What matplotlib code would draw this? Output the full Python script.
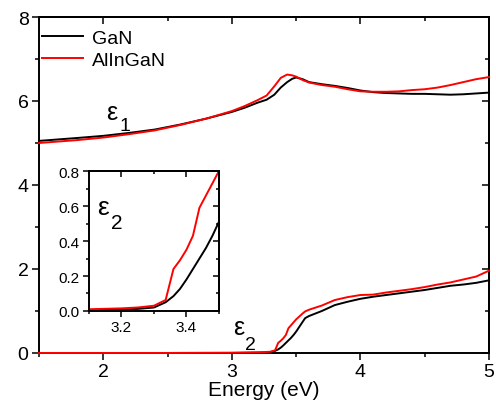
import matplotlib
matplotlib.use('Agg')
import matplotlib.pyplot as plt
from matplotlib.ticker import MultipleLocator, FormatStrFormatter

plt.rcParams['font.family'] = ['Liberation Sans', 'DejaVu Sans']

# ---- data ----
e1_energy = [1.5, 1.8, 2.0, 2.2, 2.4, 2.6, 2.8, 3.0, 3.1, 3.2, 3.27, 3.33, 3.38,
             3.43, 3.47, 3.5, 3.55, 3.6, 3.7, 3.8, 3.9, 4.0, 4.1, 4.2, 4.3, 4.4,
             4.5, 4.6, 4.7, 4.8, 4.9, 5.0]
e1_gan = [5.05, 5.12, 5.17, 5.24, 5.32, 5.44, 5.58, 5.74, 5.84, 5.96, 6.03, 6.15,
          6.32, 6.45, 6.53, 6.56, 6.52, 6.45, 6.40, 6.36, 6.31, 6.25, 6.21, 6.19,
          6.18, 6.17, 6.17, 6.16, 6.15, 6.16, 6.18, 6.20]
e1_alingan = [5.00, 5.07, 5.13, 5.21, 5.30, 5.43, 5.58, 5.76, 5.88, 6.02, 6.13,
              6.35, 6.55, 6.63, 6.61, 6.58, 6.50, 6.44, 6.38, 6.34, 6.28, 6.23,
              6.22, 6.22, 6.23, 6.26, 6.28, 6.32, 6.38, 6.45, 6.52, 6.57]

e2_energy = [1.5, 2.0, 2.5, 3.0, 3.1, 3.2, 3.25, 3.3, 3.336, 3.36, 3.38, 3.40,
             3.42, 3.44, 3.46, 3.48, 3.5, 3.55, 3.57, 3.6, 3.7, 3.8, 3.9, 4.0,
             4.1, 4.2, 4.3, 4.4, 4.5, 4.6, 4.7, 4.8, 4.9, 5.0]
e2_gan = [0.0, 0.0, 0.0, 0.002, 0.005, 0.008, 0.012, 0.02, 0.05, 0.085, 0.126,
          0.18, 0.24, 0.30, 0.36, 0.43, 0.51, 0.74, 0.83, 0.88, 1.00, 1.14, 1.22,
          1.29, 1.34, 1.38, 1.42, 1.46, 1.50, 1.55, 1.60, 1.63, 1.67, 1.73]
e2_alingan = [0.0, 0.0, 0.0, 0.005, 0.01, 0.015, 0.02, 0.03, 0.063, 0.24, 0.29,
              0.35, 0.43, 0.59, 0.66, 0.73, 0.80, 0.94, 0.99, 1.03, 1.13, 1.26,
              1.33, 1.38, 1.39, 1.44, 1.48, 1.52, 1.57, 1.63, 1.68, 1.75, 1.82, 1.96]

LW = 1.4
FS = 14
fig = plt.figure(figsize=(4.96, 4.14), dpi=100)
ax = fig.add_axes([0.0786, 0.145, 0.9074, 0.8115])

ax.plot(e1_energy, e1_gan, color='black', lw=LW, label='GaN', clip_on=False, zorder=3)
ax.plot(e1_energy, e1_alingan, color='red', lw=LW, label='AlInGaN', clip_on=False, zorder=3)
ax.plot(e2_energy, e2_gan, color='black', lw=LW, clip_on=False, zorder=3)
ax.plot(e2_energy, e2_alingan, color='red', lw=LW, clip_on=False, zorder=3)

ax.set_xlim(1.5, 5)
ax.set_ylim(0, 8)
ax.xaxis.set_major_locator(MultipleLocator(1))
ax.xaxis.set_minor_locator(MultipleLocator(0.5))
ax.yaxis.set_major_locator(MultipleLocator(2))
ax.yaxis.set_minor_locator(MultipleLocator(1))
ax.set_xlabel('Energy (eV)', fontsize=15, labelpad=0)


def style_axes(a, fs, maj, mnr):
    for s in a.spines.values():
        s.set_linewidth(LW)
    a.tick_params(which='both', direction='out', width=1.1, labelsize=fs,
                  top=False, right=False, pad=2.5)
    a.tick_params(which='major', length=maj)
    a.tick_params(which='minor', length=mnr)
    sec = a.secondary_xaxis('top')
    sec.xaxis.set_major_locator(a.xaxis.get_major_locator())
    sec.xaxis.set_minor_locator(a.xaxis.get_minor_locator())
    sec.tick_params(which='both', direction='in', labeltop=False, width=1.1)
    sec.tick_params(which='major', length=maj)
    sec.tick_params(which='minor', length=mnr)
    sec.spines['top'].set_linewidth(LW)
    secy = a.secondary_yaxis('right')
    secy.yaxis.set_major_locator(a.yaxis.get_major_locator())
    secy.yaxis.set_minor_locator(a.yaxis.get_minor_locator())
    secy.tick_params(which='both', direction='in', labelright=False, width=1.1)
    secy.tick_params(which='major', length=maj)
    secy.tick_params(which='minor', length=mnr)
    secy.spines['right'].set_linewidth(LW)


style_axes(ax, FS, 5, 3)

ax.legend(loc='upper left', bbox_to_anchor=(-0.022, 1.0), frameon=False,
          fontsize=FS, handlelength=2.1, handletextpad=0.5,
          labelspacing=0.2, borderaxespad=0.25)

# curve labels
ax.text(2.02, 5.57, 'ε', fontsize=18, ha='left', va='baseline')
ax.text(2.13, 5.3, '1', fontsize=14, ha='left', va='baseline')
ax.text(3.01, 0.45, 'ε', fontsize=18, ha='left', va='baseline')
ax.text(3.10, 0.10, '2', fontsize=14, ha='left', va='baseline')

# ---- inset ----
ins = fig.add_axes([0.1794, 0.2464, 0.262, 0.338])
ins.plot(e2_energy, e2_gan, color='black', lw=LW)
ins.plot(e2_energy, e2_alingan, color='red', lw=LW)
ins.set_xlim(3.1, 3.5)
ins.set_ylim(0, 0.8)
ins.xaxis.set_major_locator(MultipleLocator(0.2))
ins.xaxis.set_minor_locator(MultipleLocator(0.1))
ins.yaxis.set_major_locator(MultipleLocator(0.2))
ins.yaxis.set_minor_locator(MultipleLocator(0.1))
ins.yaxis.set_major_formatter(FormatStrFormatter('%.1f'))
style_axes(ins, 11, 4, 2.5)
ins.text(3.125, 0.554, 'ε', fontsize=19, ha='left', va='baseline')
ins.text(3.168, 0.475, '2', fontsize=15, ha='left', va='baseline')

fig.savefig('out.png', dpi=100)
